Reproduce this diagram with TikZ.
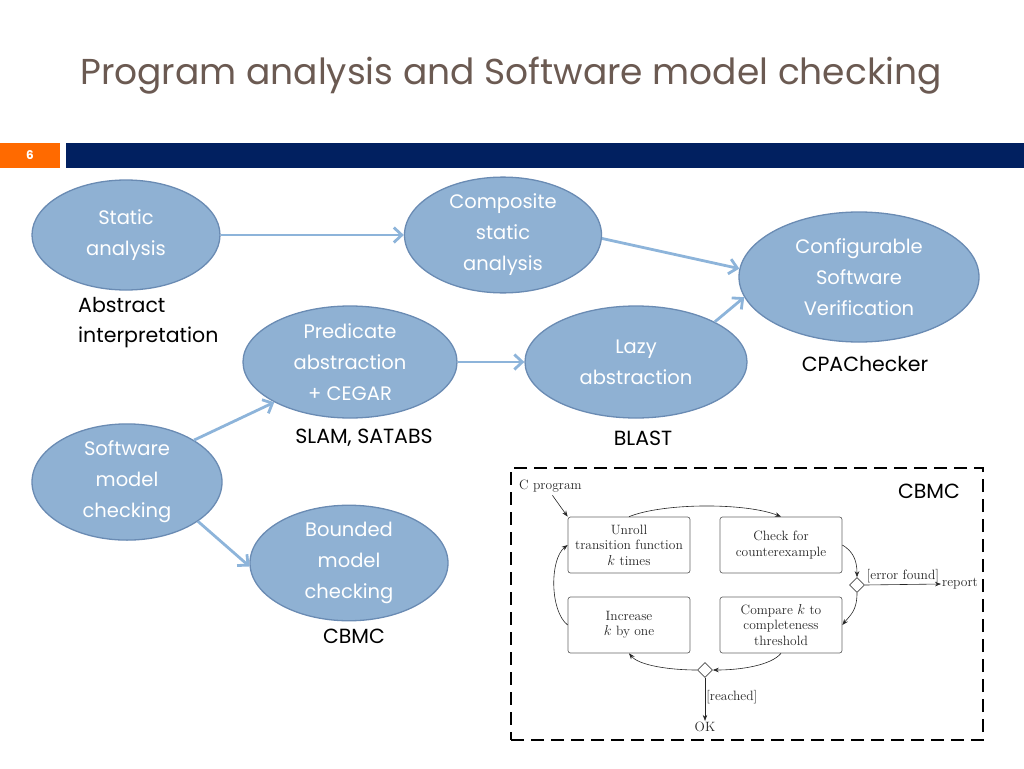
\documentclass[tikz,border=0pt]{standalone}
\usepackage{fontspec}
\newfontfamily\tw{Poppins}
\usetikzlibrary{shapes.geometric,arrows.meta}
\definecolor{ellfill}{HTML}{8FB1D3}
\definecolor{ellborder}{HTML}{6A8BB3}
\definecolor{arrowc}{HTML}{8DB4DA}
\definecolor{titlec}{HTML}{6B5A52}
\definecolor{navyc}{HTML}{012060}
\definecolor{orangec}{HTML}{FF6A00}
\definecolor{innerc}{HTML}{262626}
\tikzset{
  bubble/.style={ellipse, draw=ellborder, line width=1.3pt, fill=ellfill, text=white,
    font=\tw\fontsize{19.5}{31}\selectfont, align=center, inner sep=0pt},
  tag/.style={text=black, font=\tw\fontsize{20.5}{30}\selectfont, align=center, inner sep=0pt},
  flow/.style={draw=arrowc, line width=2.8pt, -{Straight Barb[length=8pt,width=15pt]}},
  ibox/.style={draw=black!60, line width=0.7pt, rounded corners=2.5pt, minimum width=122pt, minimum height=56pt,
    align=center, inner sep=1pt, text=innerc, font=\fontsize{13.5}{15.5}\selectfont},
  ilabel/.style={text=innerc, font=\fontsize{13.5}{15}\selectfont, inner sep=1pt},
  iarrow/.style={draw=black!85, line width=0.6pt, -{Stealth[length=6pt,width=4.5pt]}},
  choice/.style={diamond, draw=black!70, fill=white, minimum size=15pt, inner sep=0pt, line width=0.6pt}
}
\begin{document}
\begin{tikzpicture}[x=1pt,y=-1pt]
\useasboundingbox (0,0) rectangle (1024,768);
% header
\node[anchor=west, inner sep=0pt, text=titlec, font=\tw\fontsize{36}{40}\selectfont] (title) at (80,76) {Program analysis and Software model checking};
\fill[orangec] (0,143) rectangle (60,168);
\fill[navyc] (66,143) rectangle (1024,168);
\node[text=white, font=\tw\bfseries\fontsize{12}{14}\selectfont, inner sep=0pt] (pnum) at (30,155) {6};
% bubbles
\node[bubble, minimum width=188pt, minimum height=110pt] (sa) at (126,235) {Static\\analysis};
\node[bubble, minimum width=197pt, minimum height=110pt] (csa) at (503,235) {Composite\\static\\analysis};
\node[bubble, minimum width=240pt, minimum height=130pt] (cfg) at (859,277) {Configurable\\Software\\Verification};
\node[bubble, minimum width=214pt, minimum height=112pt] (pa) at (350,362) {Predicate\\abstraction\\+ CEGAR};
\node[bubble, minimum width=222pt, minimum height=112pt] (lazy) at (636,362) {Lazy\\abstraction};
\node[bubble, minimum width=190pt, minimum height=112pt] (smc) at (127,482) {Software\\model\\checking};
\node[bubble, minimum width=198pt, minimum height=110pt] (bmc) at (349,563) {Bounded\\model\\checking};
% tags
\node[tag, anchor=west, align=left] (abs) at (78,323) {Abstract\\interpretation};
\node[tag] (slam) at (364,438) {SLAM, SATABS};
\node[tag] (blast) at (643,438) {BLAST};
\node[tag] (cpa) at (865,364) {CPAChecker};
\node[tag] (cbmcA) at (354,636) {CBMC};
% flows
\draw[flow] (sa.east) -- (csa.west);
\draw[flow] (csa.-2) -- (cfg.176);
\draw[flow] (pa.east) -- (lazy.west);
\draw[flow] (lazy.27) -- (cfg.190);
\draw[flow] (smc.32) -- (pa.208);
\draw[flow] (smc.-29) -- (bmc.182);
% CBMC frame
\node[draw=black, line width=2.6pt, dash pattern=on 13pt off 7pt, minimum width=472pt, minimum height=272pt, inner sep=0pt] (frame) at (747,604) {};
\node[tag] (cbmcB) at (929,491) {CBMC};
% inner diagram
\node[ibox] (unroll) at (629,545) {Unroll\\transition function\\$k$ times};
\node[ibox] (check) at (781,545) {Check for\\counterexample};
\node[ibox] (incr) at (629,625) {Increase\\$k$ by one};
\node[ibox] (comp) at (781,625) {Compare $k$ to\\completeness\\threshold};
\node[choice] (d1) at (857,585) {};
\node[choice] (d2) at (705,670) {};
\node[ilabel, anchor=west] (cprog) at (518,486) {C program};
\node[ilabel, anchor=west] (report) at (941,584) {report};
\node[ilabel] (ok) at (705,727) {OK};
\draw[iarrow] (cprog.south) ++(2,2) coordinate (cps) -- (unroll.north west);
\draw[iarrow] (unroll.north) .. controls +(35,-14) and +(-35,-14) .. (check.north);
\draw[iarrow] (check.east) .. controls +(10,6) and +(0,-18) .. (d1.north);
\draw[iarrow] (d1.south) .. controls +(0,18) and +(8,-10) .. (comp.east);
\draw[iarrow] (comp.south) .. controls +(-10,12) and +(28,0) .. (d2.east);
\draw[iarrow] (d2.west) .. controls +(-28,0) and +(10,12) .. (incr.south);
\draw[iarrow] (incr.west) .. controls +(-18,-14) and +(-18,14) .. (unroll.west);
\draw[iarrow] (d1.east) -- node[ilabel, above, pos=0.5] (ef) {[error found]} (report.west);
\draw[iarrow] (d2.south) -- node[ilabel, right, pos=0.45] (rch) {[reached]} (ok.north);
\end{tikzpicture}
\end{document}
